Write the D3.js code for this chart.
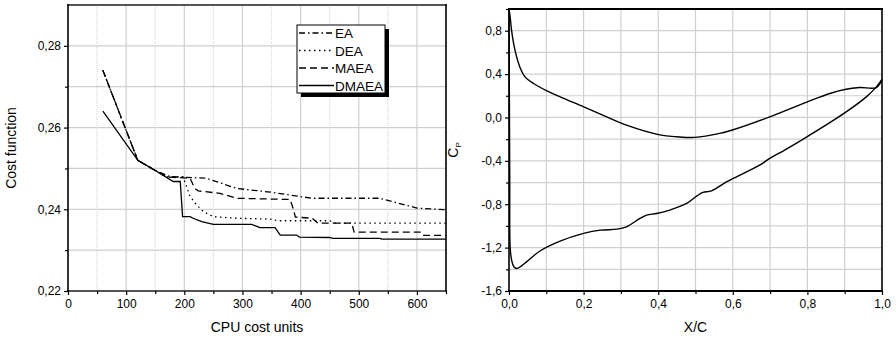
<!DOCTYPE html>
<html>
<head>
<meta charset="utf-8">
<script src="https://cdn.jsdelivr.net/npm/d3@7"></script>
<style>
    body { margin: 0; background: #fff; }
    svg text { font-family: "Liberation Sans", Arial, sans-serif; }
    .tick text { font-size: 12px; fill: #000; }
    .title { font-size: 14px; fill: #000; }
    .legend-text { font-size: 13.5px; fill: #000; }
</style>
</head>
<body>
<svg id="chart" width="896" height="339"></svg>
<script>

// ---- left panel: cost function vs CPU cost units ----
let seriesNames = ["EA", "DEA", "MAEA", "DMAEA"];
let seriesDash = ["6,3,1.5,3", "1.5,3.5", "7,4", null];

let eaPoints = [[60, 0.274], [120, 0.252], [150, 0.2495], [175, 0.248], [238, 0.2476], [290, 0.2451],
    [348, 0.2442], [400, 0.2431], [420, 0.2427], [535, 0.2427], [560, 0.2418], [600, 0.2403], [650, 0.2399]];
let deaPoints = [[60, 0.274], [120, 0.252], [150, 0.2495], [170, 0.2479], [198, 0.2479], [210, 0.2431],
    [221, 0.2411], [233, 0.2394], [250, 0.2382], [290, 0.2378], [348, 0.2376], [360, 0.2372], [450, 0.2372],
    [460, 0.2366], [650, 0.2366]];
let maeaPoints = [[60, 0.274], [120, 0.252], [150, 0.2495], [170, 0.2479], [210, 0.2476], [218, 0.2451],
    [224, 0.2445], [261, 0.2439], [290, 0.2427], [382, 0.2424], [388, 0.2398], [391, 0.2381], [420, 0.2378],
    [430, 0.2366], [488, 0.2366], [492, 0.2344], [608, 0.2344], [612, 0.2336], [650, 0.2336]];
let dmaeaPoints = [[60, 0.264], [120, 0.252], [150, 0.2495], [181, 0.2468], [193, 0.2468], [197, 0.2382],
    [210, 0.2382], [215, 0.2378], [230, 0.237], [250, 0.2363], [316, 0.2363], [330, 0.2355], [356, 0.2355],
    [365, 0.2337], [393, 0.2337], [398, 0.2332], [450, 0.2331], [455, 0.2329], [536, 0.2329], [540, 0.2327],
    [650, 0.2327]];

let costXTicks = [0, 100, 200, 300, 400, 500, 600];
let costXMinor = [50, 150, 250, 350, 450, 550, 650];
let costYTicks = [0.22, 0.24, 0.26, 0.28];
let costYMinor = [0.23, 0.25, 0.27];

// ---- right panel: pressure coefficient ----
let upperX = [0.0, 0.003, 0.007, 0.016, 0.029, 0.043, 0.066, 0.102, 0.137, 0.2, 0.262, 0.315, 0.404,
    0.45, 0.498, 0.565, 0.601, 0.699, 0.8, 0.86, 0.9, 0.94, 0.985, 1.0];
let upperCp = [1.0, 0.93, 0.8, 0.62, 0.466, 0.374, 0.313, 0.245, 0.19, 0.098, 0.006, -0.071, -0.16,
    -0.178, -0.184, -0.147, -0.113, 0.006, 0.144, 0.221, 0.258, 0.276, 0.276, 0.35];
let lowerX = [0.0, 0.001, 0.002, 0.003, 0.007, 0.013, 0.021, 0.047, 0.083, 0.137, 0.2, 0.245, 0.29,
    0.315, 0.351, 0.369, 0.396, 0.431, 0.476, 0.503, 0.52, 0.543, 0.583, 0.601, 0.672, 0.699, 0.739,
    0.802, 0.9, 0.958, 0.985, 1.0];
let lowerCp = [1.0, 0.2, -0.6, -1.19, -1.315, -1.377, -1.392, -1.331, -1.231, -1.14, -1.069, -1.039, -1.03,
    -1.008, -0.931, -0.9, -0.885, -0.854, -0.793, -0.725, -0.691, -0.676, -0.594, -0.562, -0.44, -0.378, -0.301,
    -0.172, 0.042, 0.19, 0.282, 0.35];

let cpXTicks = [0, 0.2, 0.4, 0.6, 0.8, 1.0];
let cpXMinor = [0.1, 0.3, 0.5, 0.7, 0.9];
let cpYTicks = [-1.6, -1.2, -0.8, -0.4, 0.0, 0.4, 0.8];
let cpYMinor = [-1.4, -1.0, -0.6, -0.2, 0.2, 0.6, 1.0];

function comma(fmt) {
    let f = d3.format(fmt);
    return function (d) {
        return f(d).replace(".", ",").replace("−", "-");
    };
}

let svg = d3.select("#chart");

class Panel {

    constructor(box, xDomain, yDomain) {
        this.box = box;
        this.xScale = d3.scaleLinear().domain(xDomain).range([box.left, box.right]);
        this.yScale = d3.scaleLinear().domain(yDomain).range([box.bottom, box.top]);
        this.g = svg.append("g");
    }

    grid(xValues, yValues, dashX) {
        let x = this.xScale, y = this.yScale, b = this.box;
        this.g.append("g").selectAll("line")
            .data(yValues)
            .enter().append("line")
            .attr("x1", b.left).attr("x2", b.right)
            .attr("y1", function (d) { return y(d); })
            .attr("y2", function (d) { return y(d); })
            .attr("stroke", "#cfcfcf")
            .attr("stroke-width", 1.2);
        this.g.append("g").selectAll("line")
            .data(xValues)
            .enter().append("line")
            .attr("y1", b.top).attr("y2", b.bottom)
            .attr("x1", function (d) { return x(d); })
            .attr("x2", function (d) { return x(d); })
            .attr("stroke", function (d) { return dashX && dashX(d) ? "#d8d8d8" : "#cfcfcf"; })
            .attr("stroke-dasharray", function (d) { return dashX && dashX(d) ? "1,1" : null; })
            .attr("stroke-width", 1.2);
    }

    axes(xTicks, xMinor, yTicks, yMinor, xFmt, yFmt) {
        let b = this.box;
        let xAxis = d3.axisBottom(this.xScale).tickValues(xTicks).tickFormat(xFmt)
            .tickSize(4).tickSizeOuter(0).tickPadding(4);
        let yAxis = d3.axisLeft(this.yScale).tickValues(yTicks).tickFormat(yFmt)
            .tickSize(4).tickSizeOuter(0).tickPadding(3);

        let xg = this.g.append("g")
            .attr("transform", "translate(0," + b.bottom + ")")
            .call(xAxis);
        xg.append("g").call(d3.axisBottom(this.xScale).tickValues(xMinor).tickFormat("").tickSize(3).tickSizeOuter(0));

        let yg = this.g.append("g")
            .attr("transform", "translate(" + b.left + ",0)")
            .call(yAxis);
        yg.append("g").call(d3.axisLeft(this.yScale).tickValues(yMinor).tickFormat("").tickSize(3).tickSizeOuter(0));

        this.g.selectAll(".domain").remove();
        this.g.selectAll(".tick line").attr("stroke", "#000").attr("stroke-width", 1.2);
    }

    frame(topColor, bottomColor) {
        let b = this.box;
        let edges = [
            {x1: b.left, y1: b.top, x2: b.right, y2: b.top, c: topColor, w: 2},
            {x1: b.left, y1: b.bottom, x2: b.right, y2: b.bottom, c: bottomColor, w: 2},
            {x1: b.left, y1: b.top, x2: b.left, y2: b.bottom, c: "#000", w: 1.6},
            {x1: b.right, y1: b.top, x2: b.right, y2: b.bottom, c: "#000", w: 1.6}
        ];
        this.g.append("g").selectAll("line")
            .data(edges)
            .enter().append("line")
            .attr("x1", function (d) { return d.x1; })
            .attr("y1", function (d) { return d.y1; })
            .attr("x2", function (d) { return d.x2; })
            .attr("y2", function (d) { return d.y2; })
            .attr("stroke", function (d) { return d.c; })
            .attr("stroke-width", function (d) { return d.w; })
            .attr("stroke-linecap", "square");
    }

    titles(xTitle, yTitle, yOffset) {
        let b = this.box;
        this.g.append("text")
            .attr("class", "title")
            .attr("x", (b.left + b.right) / 2)
            .attr("y", 332)
            .attr("text-anchor", "middle")
            .text(xTitle);
        let yt = this.g.append("text")
            .attr("class", "title")
            .attr("text-anchor", "middle")
            .attr("transform", "translate(" + yOffset + "," + ((b.top + b.bottom) / 2) + ") rotate(-90)");
        if (Array.isArray(yTitle)) {
            yt.append("tspan").text(yTitle[0]);
            yt.append("tspan").attr("font-size", "8px").attr("dy", 3).text(yTitle[1]);
        }
        else {
            yt.text(yTitle);
        }
    }
}

// left panel
let cost = new Panel({left: 68, right: 446, top: 5, bottom: 291}, [0, 650], [0.22, 0.29]);
cost.grid(costXTicks.concat(costXMinor).filter(function (d) { return d > 0 && d < 650; }),
    [0.23, 0.24, 0.25, 0.26, 0.27, 0.28],
    function (d) { return d % 100 !== 0; });

let costLine = d3.line()
    .x(function (d) { return cost.xScale(d[0]); })
    .y(function (d) { return cost.yScale(d[1]); });

let allSeries = [eaPoints, deaPoints, maeaPoints, dmaeaPoints];
cost.g.append("g").selectAll("path")
    .data(allSeries)
    .enter().append("path")
    .attr("d", costLine)
    .attr("fill", "none")
    .attr("stroke", "#000")
    .attr("stroke-width", 1.3)
    .attr("stroke-dasharray", function (d, i) { return seriesDash[i]; });

cost.frame("#555", "#555");
cost.axes(costXTicks, costXMinor, costYTicks, costYMinor, d3.format("d"), comma(".2f"));
cost.titles("CPU cost units", "Cost function", 16);

// legend
let legend = cost.g.append("g").attr("transform", "translate(297,25)");
legend.append("rect").attr("x", 4).attr("y", 4).attr("width", 88).attr("height", 68).attr("fill", "#000");
legend.append("rect").attr("x", 0).attr("y", 0).attr("width", 88).attr("height", 68)
    .attr("fill", "#fff").attr("stroke", "#000").attr("stroke-width", 1);
let item = legend.selectAll(".item")
    .data(seriesNames)
    .enter().append("g")
    .attr("class", "item")
    .attr("transform", function (d, i) { return "translate(0," + (8 + i * 17.5) + ")"; });
item.append("line")
    .attr("x1", 2).attr("x2", 37)
    .attr("stroke", "#000").attr("stroke-width", 1.3)
    .attr("stroke-dasharray", function (d, i) { return seriesDash[i]; });
item.append("text")
    .attr("x", 38).attr("y", 5)
    .attr("class", "legend-text")
    .text(function (d) { return d; });

// right panel
let cp = new Panel({left: 509, right: 882, top: 9, bottom: 291}, [0, 1], [-1.6, 1.0]);
cp.grid([0.1, 0.2, 0.3, 0.4, 0.5, 0.6, 0.7, 0.8, 0.9],
    [-1.4, -1.2, -1.0, -0.8, -0.6, -0.4, -0.2, 0.0, 0.2, 0.4, 0.6, 0.8], null);

let cpLine = d3.line()
    .x(function (d) { return cp.xScale(d[0]); })
    .y(function (d) { return cp.yScale(d[1]); })
    .curve(d3.curveCatmullRom.alpha(0.5));

let upper = upperX.map(function (x, i) { return [x, upperCp[i]]; });
let lower = lowerX.map(function (x, i) { return [x, lowerCp[i]]; });

cp.g.append("g").selectAll("path")
    .data([upper, lower])
    .enter().append("path")
    .attr("d", cpLine)
    .attr("fill", "none")
    .attr("stroke", "#000")
    .attr("stroke-width", 1.4);

cp.frame("#000", "#000");
cp.axes(cpXTicks, cpXMinor, cpYTicks, cpYMinor, comma(".1f"), comma(".1f"));
cp.titles("X/C", ["C", "P"], 458);

</script>
</body>
</html>
